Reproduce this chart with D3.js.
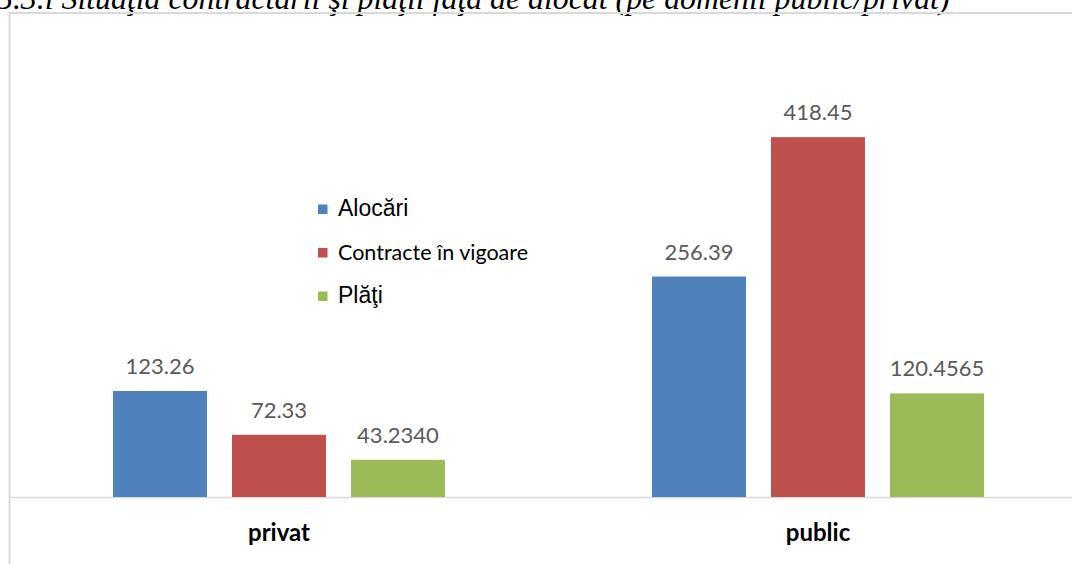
<!DOCTYPE html>
<html>
<head>
<meta charset="utf-8">
<script src="https://cdn.jsdelivr.net/npm/d3@7"></script>
<style>
  html, body { margin: 0; padding: 0; background: #fff; overflow: hidden; }
  svg { display: block; }
</style>
</head>
<body>
<svg id="chart" width="1072" height="564"></svg>
<script>
const title = "5.3.i Situaţia contractării şi plăţii faţă de alocat (pe domenii public/privat)";
const categories = ["privat", "public"];
const series = ["Alocări", "Contracte în vigoare", "Plăţi"];
const colors = ["#4F81BD", "#C0504D", "#9BBB59"];
const alocari = [123.26, 256.39];
const contracte = [72.33, 418.45];
const plati = [43.234, 120.4565];
const labelAlocari = ["123.26", "256.39"];
const labelContracte = ["72.33", "418.45"];
const labelPlati = ["43.2340", "120.4565"];

const values = [alocari, contracte, plati];
const labels = [labelAlocari, labelContracte, labelPlati];

const svg = d3.select("#chart");

// title (clipped at top, as in the source)
const t = svg.append("text")
  .attr("x", -3).attr("y", 9)
  .attr("font-family", "'Liberation Serif', 'Times New Roman', serif")
  .attr("font-style", "italic")
  .attr("font-size", 26)
  .attr("fill", "#000")
  .text(title);
const tl = t.node().getComputedTextLength();
t.attr("font-size", 26 * 953 / tl);

// chart frame
svg.append("line").attr("x1", 9).attr("x2", 1072).attr("y1", 13).attr("y2", 13)
  .attr("stroke", "#d9d9d9").attr("stroke-width", 2);
svg.append("line").attr("x1", 9.5).attr("x2", 9.5).attr("y1", 12).attr("y2", 564)
  .attr("stroke", "#d9d9d9").attr("stroke-width", 2);

const x0 = d3.scaleBand().domain(categories).range([10, 1088]).padding(0);
const x1 = d3.scaleBand().domain(series).range([103, 435]).paddingInner(0.21).paddingOuter(0);
const y = d3.scaleLinear().domain([0, 450]).range([497, 110]);

// baseline axis
svg.append("line").attr("x1", 10).attr("x2", 1072).attr("y1", y(0) + 0.5).attr("y2", y(0) + 0.5)
  .attr("stroke", "#d9d9d9").attr("stroke-width", 1.5);

const rows = [];
series.forEach((s, si) => categories.forEach((c, ci) => rows.push({s, si, c, v: values[si][ci], lab: labels[si][ci]})));

svg.append("g").selectAll("rect").data(rows).join("rect")
  .attr("x", d => x0(d.c) + x1(d.s))
  .attr("width", x1.bandwidth())
  .attr("y", d => y(d.v))
  .attr("height", d => y(0) - y(d.v))
  .attr("fill", d => colors[d.si]);

svg.append("g").selectAll("text").data(rows).join("text")
  .attr("x", d => x0(d.c) + x1(d.s) + x1.bandwidth() / 2)
  .attr("y", d => y(d.v) - 17)
  .attr("text-anchor", "middle")
  .attr("font-family", "Lato, 'Open Sans', sans-serif")
  .attr("font-size", 22)
  .attr("fill", "#595959")
  .text(d => d.lab);

// category labels
svg.append("g").selectAll("text").data(categories).join("text")
  .attr("x", d => x0(d) + (x1.range()[0] + x1.range()[1]) / 2)
  .attr("y", 541)
  .attr("text-anchor", "middle")
  .attr("font-family", "Lato, 'Open Sans', sans-serif")
  .attr("font-weight", "bold")
  .attr("font-size", 24)
  .attr("fill", "#000")
  .text(d => d);

// legend
const legY = [216, 259.5, 303];
const legFont = ["'Liberation Sans', Arial, sans-serif", "Lato, sans-serif", "'Liberation Sans', Arial, sans-serif"];
const legSize = [23, 21.5, 23];
const leg = svg.append("g");
series.forEach((s, i) => {
  leg.append("rect").attr("x", 318).attr("y", legY[i] - 11.5).attr("width", 9.5).attr("height", 9.5).attr("fill", colors[i]);
  leg.append("text").attr("x", 338).attr("y", legY[i])
    .attr("font-family", legFont[i]).attr("font-size", legSize[i]).attr("fill", "#000").text(s);
});
</script>
</body>
</html>
